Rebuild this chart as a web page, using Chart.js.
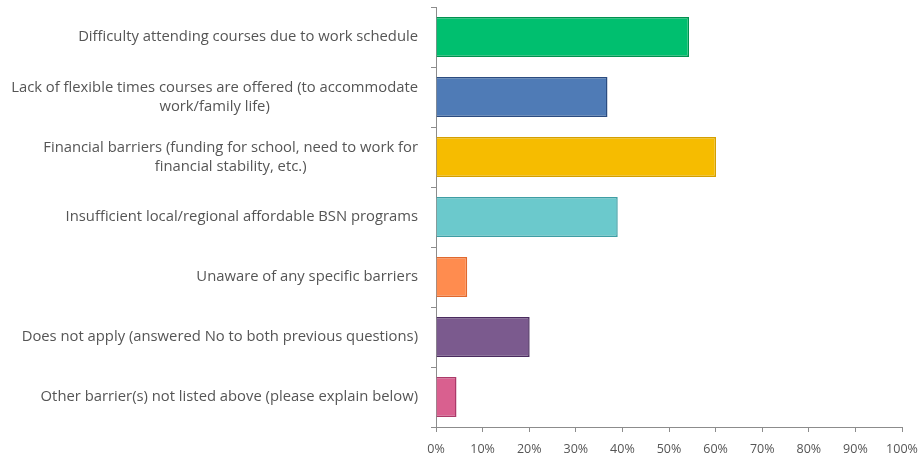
<!DOCTYPE html>
<html>
<head>
<meta charset="utf-8">
<script src="https://cdn.jsdelivr.net/npm/chart.js@4.4.0/dist/chart.umd.min.js"></script>
<style>
  html, body { margin: 0; padding: 0; background: #fff; }
  #wrap { width: 922px; height: 460px; }
</style>
</head>
<body>
<div id="wrap"><canvas id="myChart" width="922" height="460"></canvas></div>
<script>
// survey answers, top to bottom
var barriers = [
  ['Difficulty attending courses due to work schedule'],
  ['Lack of flexible times courses are offered (to accommodate', 'work/family life)'],
  ['Financial barriers (funding for school, need to work for', 'financial stability, etc.)'],
  ['Insufficient local/regional affordable BSN programs'],
  ['Unaware of any specific barriers'],
  ['Does not apply (answered No to both previous questions)'],
  ['Other barrier(s) not listed above (please explain below)']
];
var percents = [54.3, 36.8, 60.1, 39.0, 6.7, 20.1, 4.4];
var fillColors = ['#00bf6f', '#4f7bb6', '#f6bc00', '#6bc9cc', '#ff8c4f', '#7b5a8e', '#d9608f'];
var edgeColors = ['#00914f', '#2b4c80', '#d49f00', '#3e9ea4', '#e0692e', '#4a2b5e', '#ab3a69'];
var xTicks = [0, 10, 20, 30, 40, 50, 60, 70, 80, 90, 100];

var axisGrey = '#8c8c8c';
var textGrey = '#555555';
var labelFont = '14.8px "Open Sans"';
var lineStep = 19;

// category labels: right aligned block, lines centred inside the block
var categoryLabels = {
  id: 'categoryLabels',
  afterDraw: function (chart) {
    var c = chart.ctx;
    var yScale = chart.scales.y;
    var rightEdge = yScale.right - 18;
    c.save();
    c.font = labelFont;
    c.fillStyle = textGrey;
    c.textAlign = 'center';
    c.textBaseline = 'middle';
    chart.data.labels.forEach(function (lines, i) {
      var widest = 0;
      lines.forEach(function (l) { widest = Math.max(widest, c.measureText(l).width); });
      var cx = rightEdge - widest / 2;
      var cy = yScale.getPixelForValue(i);
      var y0 = cy - (lines.length - 1) * lineStep / 2;
      lines.forEach(function (l, k) { c.fillText(l, cx, y0 + k * lineStep); });
    });
    c.restore();
  }
};

var config = {
  type: 'bar',
  data: {
    labels: barriers,
    datasets: [{
      data: percents,
      backgroundColor: fillColors,
      borderColor: edgeColors,
      borderWidth: 1.5,
      barPercentage: 0.67,
      categoryPercentage: 1.0
    }]
  },
  options: {
    indexAxis: 'y',
    responsive: false,
    animation: false,
    layout: { padding: { top: 7, right: 0, bottom: 0, left: 0 } },
    plugins: {
      legend: { display: false },
      tooltip: { enabled: false }
    },
    scales: {
      x: {
        min: 0,
        max: 100,
        afterBuildTicks: function (scale) {
          scale.ticks = xTicks.map(function (v) { return { value: v }; });
        },
        afterFit: function (scale) {
          scale.height = 33;
          scale.paddingRight = 20;
        },
        grid: {
          drawOnChartArea: false,
          drawTicks: true,
          tickLength: 5,
          color: axisGrey
        },
        border: { color: axisGrey, width: 1 },
        ticks: {
          color: textGrey,
          font: { family: 'Open Sans', size: 12.5, lineHeight: 1.0 },
          padding: 11,
          maxRotation: 0,
          callback: function (v) { return v + '%'; }
        }
      },
      y: {
        grid: {
          offset: true,
          drawOnChartArea: false,
          drawTicks: true,
          tickLength: 5,
          color: axisGrey
        },
        border: { color: axisGrey, width: 1 },
        afterFit: function (scale) { scale.width = 436; },
        ticks: { display: false }
      }
    }
  },
  plugins: [categoryLabels]
};

var ctx = document.getElementById('myChart');
var barChart = new Chart(ctx, config);
</script>
</body>
</html>
